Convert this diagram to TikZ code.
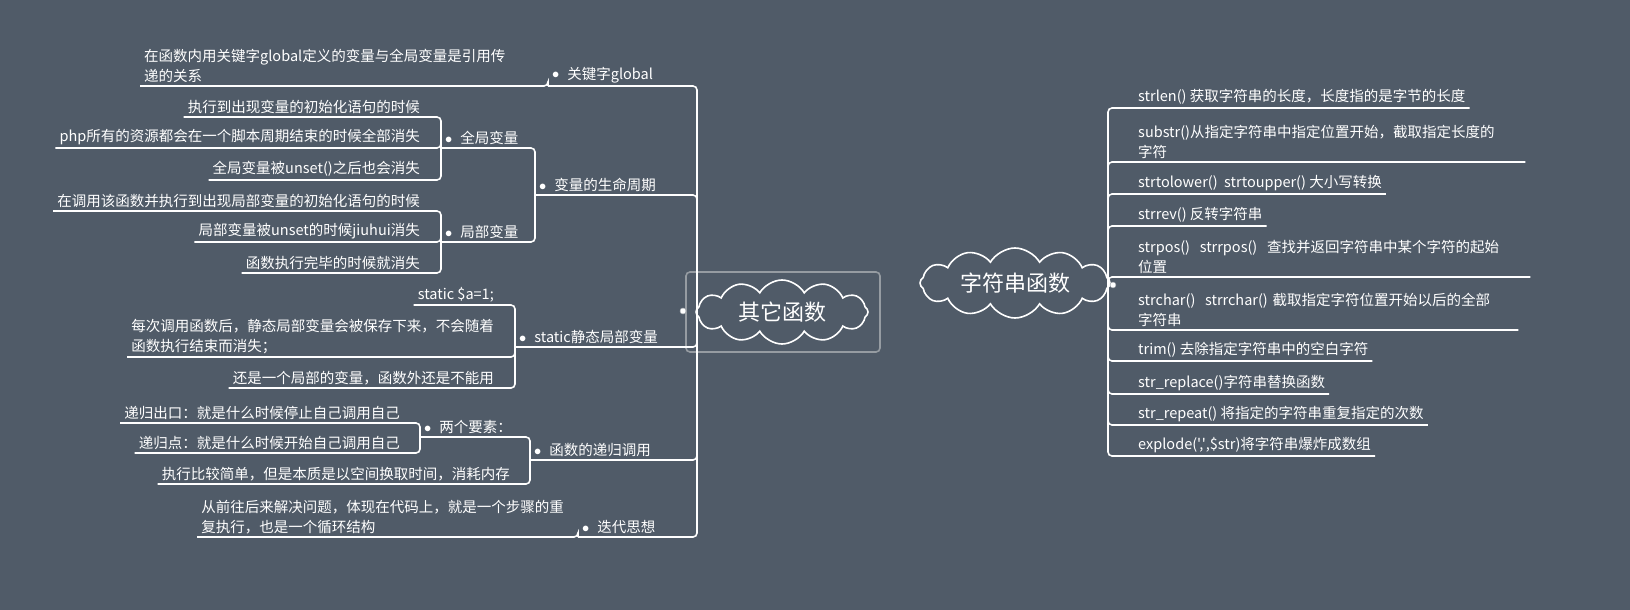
\documentclass[tikz,border=0pt]{standalone}
\usepackage{fontspec}
\setmainfont{Noto Sans CJK SC}
\newfontfamily\nolig{Noto Sans CJK SC}[Ligatures=ResetAll]
\usetikzlibrary{shapes.symbols}
\definecolor{bgslate}{RGB}{80,91,104}
\definecolor{framegray}{RGB}{150,156,162}
\newcommand{\mmdot}{\raisebox{0.5pt}{$\bullet$}\hspace{8pt}}
\begin{document}
\begin{tikzpicture}[x=1pt,y=-1pt,
	topic/.style={anchor=south west,inner xsep=4pt,inner ysep=3pt,text=white,font=\fontsize{14.5}{20}\selectfont},
	leaf/.style={anchor=south east,inner xsep=4pt,inner ysep=3pt,text=white,align=left,font=\fontsize{14.5}{20}\selectfont},
	rleaf/.style={anchor=south west,inner xsep=4pt,inner ysep=3pt,text=white,align=left,font=\fontsize{14.5}{20}\selectfont},
	branch/.style={draw=white,line width=1.6pt,rounded corners=4pt},
	rootcloud/.style={cloud,cloud puffs=12,cloud puff arc=120,cloud ignores aspect,inner sep=0pt,draw=white,line width=1.6pt,fill=bgslate,text=white,font=\fontsize{22}{26}\selectfont},
	rootdot/.style={circle,fill=white,draw=framegray,inner sep=0pt,minimum size=6pt}]

	\fill[bgslate] (0,0) rectangle (1630,610);
	\useasboundingbox (0,0) rectangle (1630,610);

	% left root
	\draw[framegray,line width=1.6pt,rounded corners=4pt] (686,272) rectangle (880,352);
	\node[rootcloud,minimum width=172pt,minimum height=64pt] (other) at (782,312) {其它函数};
	\node[rootdot] (ldot) at (683,311) {};
	\coordinate (ltrunk) at (697,311);

	\node[topic] (kwg) at (548,86) {\mmdot 关键字global};
	\node[rleaf] (gdesc) at (140,86) {在函数内用关键字global定义的变量与全局变量是引用传\\递的关系};

	\node[topic] (lifec) at (535,195) {\mmdot 变量的生命周期};
	\node[topic] (glob) at (441,148) {\mmdot 全局变量};
	\node[leaf] (gv1) at (424,117) {执行到出现变量的初始化语句的时候};
	\node[leaf] (gv2) at (424,148) {php所有的资源都会在一个脚本周期结束的时候全部消失};
	\node[leaf] (gv3) at (424,180) {全局变量被unset()之后也会消失};
	\node[topic] (loc) at (441,242) {\mmdot 局部变量};
	\node[leaf] (lv1) at (424,211) {在调用该函数并执行到出现局部变量的初始化语句的时候};
	\node[leaf] (lv2) at (424,242) {局部变量被unset的时候jiuhui消失};
	\node[leaf] (lv3) at (424,273) {函数执行完毕的时候就消失};

	\node[topic] (stat) at (515,347) {\mmdot static静态局部变量};
	\node[leaf] (sv1) at (498,305) {static \$a=1;};
	\node[leaf] (sv2) at (498,357) {每次调用函数后，静态局部变量会被保存下来，不会随着\\函数执行结束而消失；};
	\node[leaf] (sv3) at (498,388) {还是一个局部的变量，函数外还是不能用};

	\node[topic] (recur) at (530,460) {\mmdot 函数的递归调用};
	\node[topic] (two) at (420,437) {\mmdot 两个要素：};
	\node[leaf] (rt1) at (404,423) {递归出口：就是什么时候停止自己调用自己};
	\node[leaf] (rt2) at (404,453) {递归点：就是什么时候开始自己调用自己};
	\node[leaf] (rv3) at (514,484) {执行比较简单，但是本质是以空间换取时间，消耗内存};

	\node[topic] (iter) at (578,537) {\mmdot 迭代思想};
	\node[leaf] (it1) at (568,537) {从前往后来解决问题，体现在代码上，就是一个步骤的重\\复执行，也是一个循环结构};

	\foreach \c in {kwg,lifec,stat,recur,iter} \draw[branch] (\c.south west) -| (ltrunk);
	\draw[branch] (gdesc.south west) -| (kwg.south west);
	\foreach \c in {glob,loc} \draw[branch] (\c.south west) -| (lifec.south west);
	\foreach \c in {gv1,gv2,gv3} \draw[branch] (\c.south west) -| (glob.south west);
	\foreach \c in {lv1,lv2,lv3} \draw[branch] (\c.south west) -| (loc.south west);
	\foreach \c in {sv1,sv2,sv3} \draw[branch] (\c.south west) -| (stat.south west);
	\foreach \c in {two,rv3} \draw[branch] (\c.south west) -| (recur.south west);
	\foreach \c in {rt1,rt2} \draw[branch] (\c.south west) -| (two.south west);
	\draw[branch] (it1.south west) -| (iter.south west);
	\node[rootdot] at (ldot) {};

	% right root
	\node[rootcloud,minimum width=190pt,minimum height=70pt] (strf) at (1015,283) {字符串函数};
	\coordinate (rtrunk) at (1108,285);

	\node[rleaf] (s1) at (1134,108) {strlen() 获取字符串的长度，长度指的是字节的长度};
	\node[rleaf,text width=383pt] (s2) at (1134,162) {substr()从指定字符串中指定位置开始，截取指定长度的\\字符};
	\node[rleaf] (s3) at (1134,194) {strtolower()\ \ strtoupper() 大小写转换};
	\node[rleaf] (s4) at (1134,226) {strrev() 反转字符串};
	\node[rleaf,text width=388pt] (s5) at (1134,277) {strpos()\ \ strrpos()\ \ 查找并返回字符串中某个字符的起始\\位置};
	\node[rleaf,text width=376pt] (s6) at (1134,330) {strchar()\ \ strrchar() 截取指定字符位置开始以后的全部\\字符串};
	\node[rleaf] (s7) at (1134,361) {trim() 去除指定字符串中的空白字符};
	\node[rleaf] (s8) at (1134,394) {str\_replace()字符串替换函数};
	\node[rleaf] (s9) at (1134,425) {str\_repeat() 将指定的字符串重复指定的次数};
	\node[rleaf] (s10) at (1134,456) {explode({\nolig ','},\$str)将字符串爆炸成数组};

	\foreach \c in {s1,s2,s3,s4,s5,s6,s7,s8,s9,s10}
		\draw[branch] (rtrunk) |- (\c.south west) -- (\c.south east);
	\node[rootdot] (rdot) at (1113,285) {};

\end{tikzpicture}
\end{document}
